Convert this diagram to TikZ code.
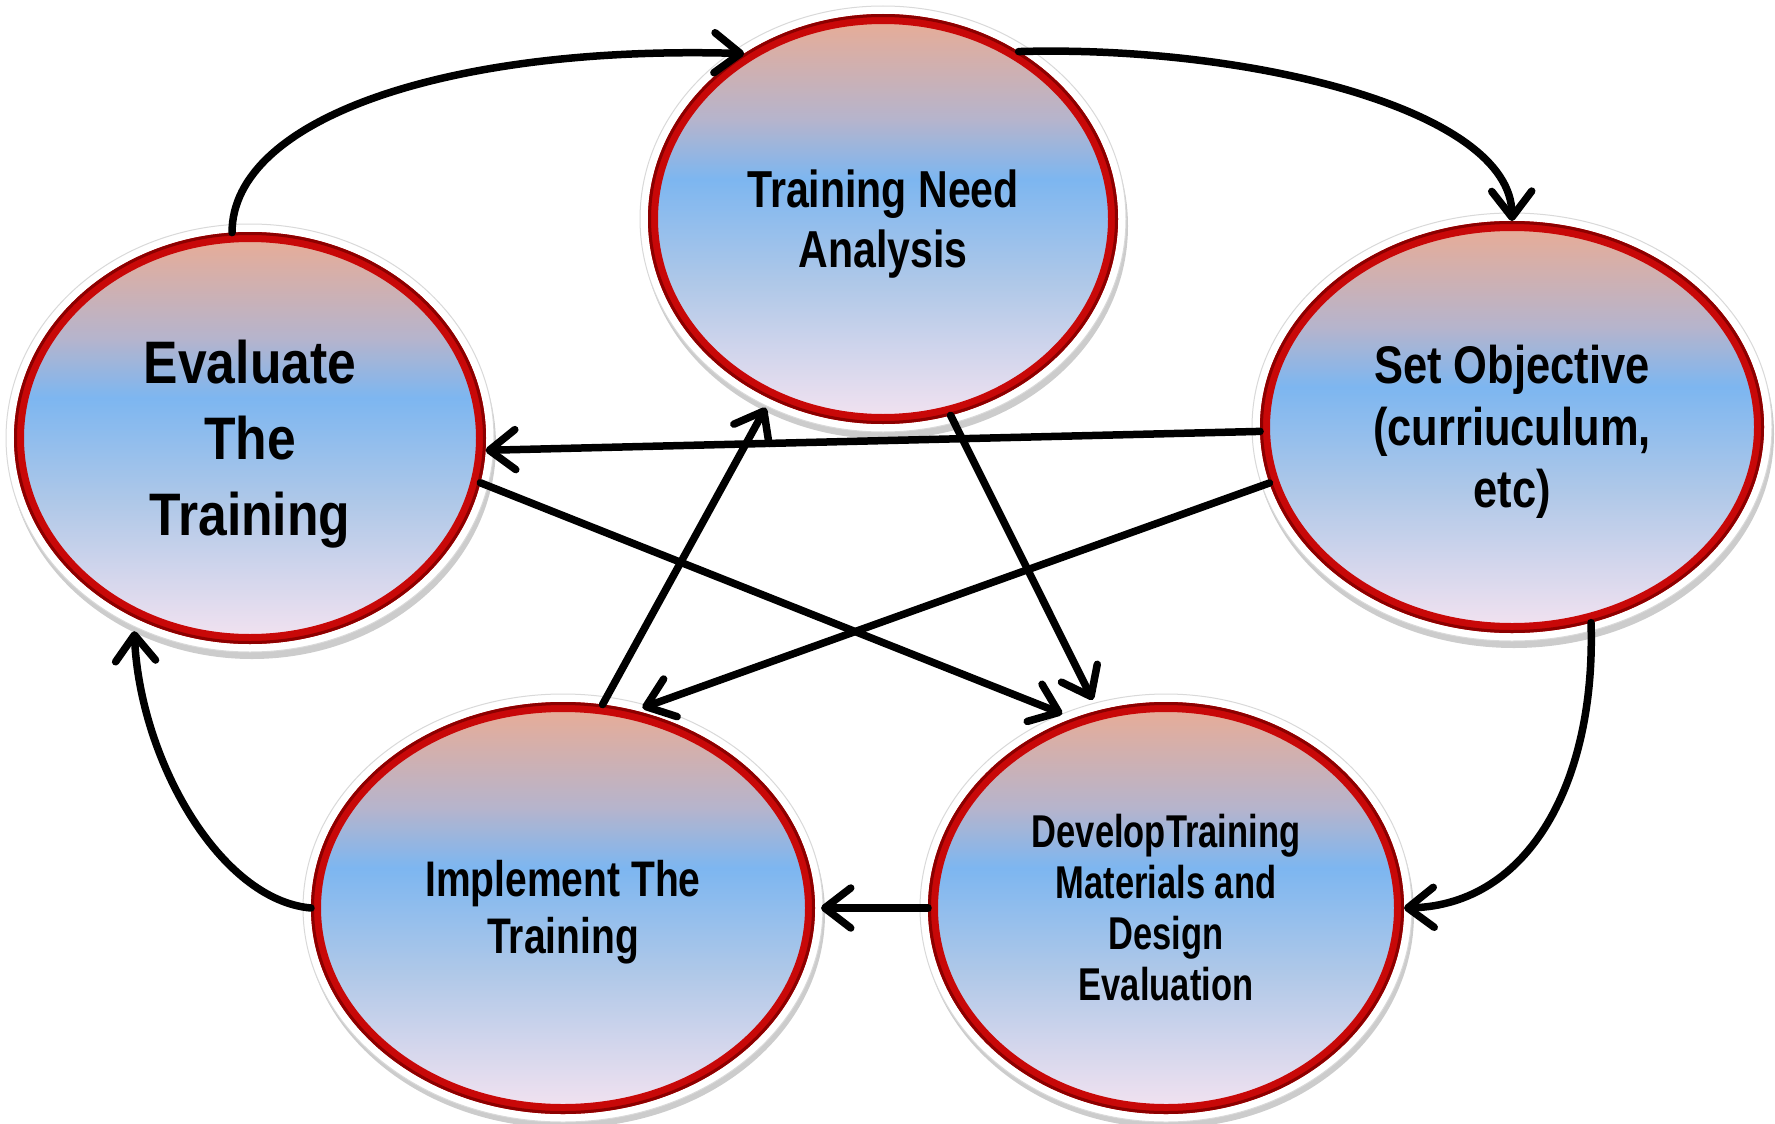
\documentclass[tikz,border=0pt]{standalone}
\usepackage{fontspec}
\setmainfont{Liberation Sans}
\usetikzlibrary{shapes.geometric,arrows.meta}
\definecolor{bubtop}{RGB}{232,172,150}
\definecolor{bubupper}{RGB}{182,180,204}
\definecolor{bubmid}{RGB}{125,182,240}
\definecolor{bublower}{RGB}{175,200,232}
\definecolor{bubbot}{RGB}{242,226,240}
\definecolor{ringred}{RGB}{200,8,8}
\definecolor{ringdark}{RGB}{140,0,0}
\pgfdeclareverticalshading{bub}{100bp}{color(0bp)=(bubbot); color(25bp)=(bubbot); color(42bp)=(bublower); color(55bp)=(bubmid); color(62.5bp)=(bubupper); color(75bp)=(bubtop); color(100bp)=(bubtop)}
\newcommand\bubtext[4]{\raisebox{-6pt}[\height][\depth]{\scalebox{#1}[1]{\fontsize{#2}{#3}\selectfont\bfseries\begin{tabular}{@{}c@{}}#4\end{tabular}}}}
\tikzset{
  bubble/.style 2 args={shape=ellipse, minimum width=#1, minimum height=#2, inner sep=0pt, outer sep=5pt, shading=bub, shade, draw=ringred, line width=10pt, text=black},
  ringline/.style 2 args={shape=ellipse, minimum width=#1+7, minimum height=#2+7, inner sep=0pt, draw=ringdark, line width=3pt},
  halo/.style 2 args={shape=ellipse, minimum width=#1+26, minimum height=#2+26, inner sep=0pt, fill=white, draw=black!15, line width=1pt},
  shadowell/.style 2 args={shape=ellipse, minimum width=#1+26, minimum height=#2+26, inner sep=0pt, fill=black, opacity=0.2},
  flow/.style={draw=black, line width=7.5pt, line cap=round, line join=round, -{Straight Barb[length=26pt,width=40pt,round]}}
}
\begin{document}
\begin{tikzpicture}[x=1pt,y=-1pt]
\useasboundingbox (0,0) rectangle (1775,1124);
\fill[white] (0,0) rectangle (1775,1124);
% shadows
\node[shadowell={460}{400}] (tnaS) at (885,226) {};
\node[shadowell={494}{402}] (setS) at (1514,434) {};
\node[shadowell={462}{402}] (evalS) at (252,445) {};
\node[shadowell={494}{402}] (implS) at (565,914) {};
\node[shadowell={466}{402}] (devS) at (1168,914) {};
% halos
\node[halo={460}{400}] (tnaH) at (883,219) {};
\node[halo={494}{402}] (setH) at (1512,427) {};
\node[halo={462}{402}] (evalH) at (250,438) {};
\node[halo={494}{402}] (implH) at (563,908) {};
\node[halo={466}{402}] (devH) at (1166,908) {};
% main bubbles
\node[bubble={460}{400}] (tna) at (883,219) {\bubtext{0.79}{52}{60}{Training Need\\Analysis}};
\node[bubble={494}{402}] (set) at (1512,427) {\bubtext{0.82}{53}{62}{Set Objective\\(curriuculum,\\etc)}};
\node[bubble={462}{402}] (eval) at (250,438) {\bubtext{0.86}{60}{76}{Evaluate\\The\\Training}};
\node[bubble={494}{402}] (impl) at (563,908) {\bubtext{0.78}{50}{57}{Implement The\\Training}};
\node[bubble={466}{402}] (dev) at (1166,908) {\bubtext{0.75}{46}{51}{DevelopTraining\\Materials and\\Design\\Evaluation}};
% dark outer rings
\node[ringline={460}{400}] (tnaR) at (883,219) {};
\node[ringline={494}{402}] (setR) at (1512,427) {};
\node[ringline={462}{402}] (evalR) at (250,438) {};
\node[ringline={494}{402}] (implR) at (563,908) {};
\node[ringline={466}{402}] (devR) at (1166,908) {};
% connectors
\draw[flow] (eval.95) .. controls (232,118) and (450,45) .. (tna.130);
\draw[flow] (tna.51) .. controls (1250,45) and (1511,110) .. (set.90);
\draw[flow] (set.292) .. controls (1596,780) and (1530,905) .. (dev.east);
\draw[flow, shorten >=6pt] (dev.west) -- (impl.east);
\draw[flow, shorten >=14pt] (impl.west) .. controls (220,900) and (140,760) .. (eval.237);
\draw[flow] (set.181.5) -- (eval.357);
\draw[flow, shorten >=8pt] (set.193) -- (impl.70);
\draw[flow, shorten >=10pt] (impl.79) -- (tna.238.7);
\draw[flow, shorten >=12pt] (tna.289) -- (dev.109);
\draw[flow, shorten >=12pt] (eval.349.6) -- (dev.116.6);
\end{tikzpicture}
\end{document}
